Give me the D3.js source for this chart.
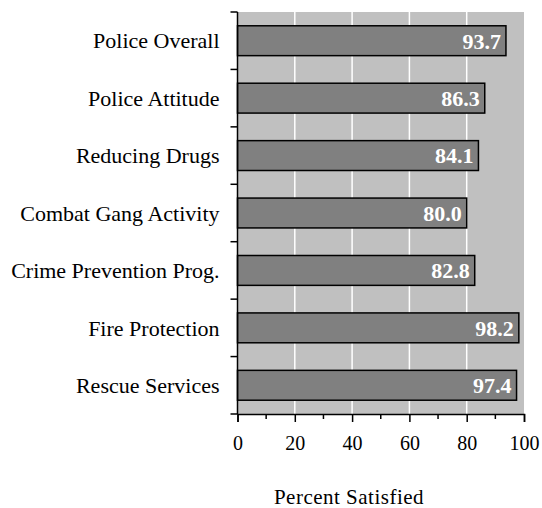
<!DOCTYPE html>
<html>
<head>
<meta charset="utf-8">
<script src="https://cdn.jsdelivr.net/npm/d3@7"></script>
<style>
  body { margin: 0; background: #fff; }
  svg { display: block; }
  text { font-family: "Liberation Serif", "Times New Roman", serif; }
</style>
</head>
<body>
<svg id="chart" width="542" height="508"></svg>
<script>
// Survey results: share of respondents satisfied with each service
const categories = [
  "Police Overall",
  "Police Attitude",
  "Reducing Drugs",
  "Combat Gang Activity",
  "Crime Prevention Prog.",
  "Fire Protection",
  "Rescue Services"
];
const values = [93.7, 86.3, 84.1, 80.0, 82.8, 98.2, 97.4];
const xTicks = [0, 20, 40, 60, 80, 100];
const xMinorTicks = [10, 30, 50, 70, 90];
const xTitle = "Percent Satisfied";

const svg = d3.select("#chart");
const margin = { top: 12, right: 18, bottom: 94, left: 237.5 };
const width = 542 - margin.left - margin.right;
const height = 508 - margin.top - margin.bottom;

const g = svg.append("g").attr("transform", `translate(${margin.left},${margin.top})`);

const x = d3.scaleLinear().domain([0, 100]).range([0, width]);
const y = d3.scaleBand().domain(categories).range([0, height]).paddingInner(0.48).paddingOuter(0.24);

// plot background
g.append("rect")
  .attr("x", 0).attr("y", 0)
  .attr("width", width).attr("height", height)
  .attr("fill", "#c0c0c0");

// vertical gridlines
g.selectAll(".grid")
  .data(xTicks.slice(1, -1))
  .enter().append("line")
  .attr("x1", d => x(d)).attr("x2", d => x(d))
  .attr("y1", 0).attr("y2", height)
  .attr("stroke", "#fff").attr("stroke-width", 1.5);

// bars
g.selectAll(".bar")
  .data(values)
  .enter().append("rect")
  .attr("x", 0)
  .attr("y", (d, i) => y(categories[i]))
  .attr("width", d => x(d))
  .attr("height", y.bandwidth())
  .attr("fill", "#808080")
  .attr("stroke", "#000")
  .attr("stroke-width", 1.5);

// value labels inside bars
g.selectAll(".val")
  .data(values)
  .enter().append("text")
  .attr("x", d => x(d) - 5)
  .attr("y", (d, i) => y(categories[i]) + y.bandwidth() / 2)
  .attr("dy", "0.36em")
  .attr("text-anchor", "end")
  .attr("fill", "#fff")
  .attr("font-weight", "bold")
  .attr("font-size", 22)
  .text(d => d.toFixed(1));

// y axis: line with ticks on category boundaries
const boundaries = d3.range(categories.length + 1).map(i => i * height / categories.length);
g.append("line")
  .attr("x1", 0).attr("x2", 0).attr("y1", 0).attr("y2", height)
  .attr("stroke", "#000").attr("stroke-width", 1.5);
g.selectAll(".ytick")
  .data(boundaries)
  .enter().append("line")
  .attr("x1", -7).attr("x2", 0)
  .attr("y1", d => d).attr("y2", d => d)
  .attr("stroke", "#000").attr("stroke-width", 1.5);

g.selectAll(".ylabel")
  .data(categories)
  .enter().append("text")
  .attr("x", -18)
  .attr("y", d => y(d) + y.bandwidth() / 2)
  .attr("dy", "0.35em")
  .attr("text-anchor", "end")
  .attr("font-size", 22)
  .attr("fill", "#000")
  .text(d => d);

// x axis
const xAxis = g.append("g")
  .attr("transform", `translate(0,${height})`)
  .call(d3.axisBottom(x).tickValues(xTicks).tickSize(8).tickPadding(14).tickFormat(d3.format("d")));
xAxis.select(".domain").attr("stroke", "#000").attr("stroke-width", 1.5);
xAxis.selectAll(".tick line").attr("stroke", "#000").attr("stroke-width", 1.5);
xAxis.selectAll(".tick text")
  .attr("font-family", "Liberation Serif, Times New Roman, serif")
  .attr("font-size", 20)
  .attr("fill", "#000");

g.append("g")
  .attr("transform", `translate(0,${height})`)
  .selectAll("line")
  .data(xMinorTicks)
  .enter().append("line")
  .attr("x1", d => x(d)).attr("x2", d => x(d))
  .attr("y1", 0).attr("y2", 5)
  .attr("stroke", "#000").attr("stroke-width", 1.5);

// x axis title
svg.append("text")
  .attr("x", 349)
  .attr("y", 497)
  .attr("dy", "0.35em")
  .attr("text-anchor", "middle")
  .attr("font-size", 21)
  .attr("letter-spacing", 0.5)
  .attr("fill", "#000")
  .text(xTitle);
</script>
</body>
</html>
